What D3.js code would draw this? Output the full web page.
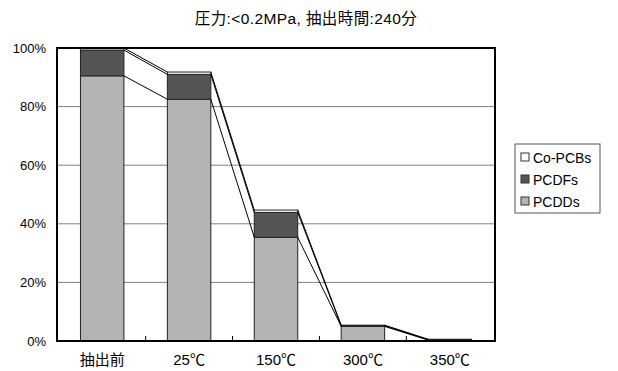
<!DOCTYPE html>
<html>
<head>
<meta charset="utf-8">
<script src="https://cdn.jsdelivr.net/npm/d3@7/dist/d3.min.js"></script>
<style>
  html, body { margin: 0; padding: 0; background: #fff; }
  svg { display: block; }
  text { font-family: "Liberation Sans", "Noto Sans CJK JP", sans-serif; fill: #000; }
</style>
</head>
<body>
<svg id="chart" width="618" height="371"></svg>
<script>
// Extraction stages
const categories = ["抽出前", "25℃", "150℃", "300℃", "350℃"];
// Series names (stack order, bottom to top)
const seriesNames = ["PCDDs", "PCDFs", "Co-PCBs"];
// Residual fraction (%) per stage
const pcdds  = [90.5, 82.5, 35.4, 5.0, 0.3];
const pcdfs  = [8.8, 8.5, 8.5, 0.2, 0.2];
const copcbs = [0.7, 0.8, 0.8, 0.2, 0.1];
const yTicks = [0, 20, 40, 60, 80, 100];
const titleText = "圧力:<0.2MPa, 抽出時間:240分";

const colors = { "PCDDs": "#b3b3b3", "PCDFs": "#555555", "Co-PCBs": "#ffffff" };
const fontStack = "\"Liberation Sans\", \"Noto Sans CJK JP\", sans-serif";

const svg = d3.select("#chart");
const plot = { left: 57, right: 495, top: 48, bottom: 341 };

const x = d3.scaleBand()
  .domain(categories)
  .range([plot.left, plot.right])
  .paddingInner(0.5)
  .paddingOuter(0.27);

const y = d3.scaleLinear().domain([0, 100]).range([plot.bottom, plot.top]);

const rows = categories.map((c, i) => ({ cat: c, "PCDDs": pcdds[i], "PCDFs": pcdfs[i], "Co-PCBs": copcbs[i] }));
const stacked = d3.stack().keys(seriesNames)(rows);

// Title
svg.append("text")
  .attr("x", 306).attr("y", 24)
  .attr("text-anchor", "middle")
  .attr("font-size", 15.5)
  .attr("letter-spacing", 0.4)
  .text(titleText);

// Gridlines
svg.append("g")
  .selectAll("line")
  .data(yTicks.filter(t => t > 0 && t < 100))
  .join("line")
  .attr("x1", plot.left).attr("x2", plot.right)
  .attr("y1", d => y(d)).attr("y2", d => y(d))
  .attr("stroke", "#808080").attr("stroke-width", 1);

// Y axis labels
const yAxis = d3.axisLeft(y).tickValues(yTicks).tickSize(0).tickPadding(11).tickFormat(d => d + "%");
const yg = svg.append("g").attr("transform", `translate(${plot.left},0)`).call(yAxis);
yg.select(".domain").remove();
yg.selectAll("text").attr("font-size", 13).attr("font-family", fontStack).attr("fill", "#000");

// Stacked bars
svg.append("g")
  .selectAll("g")
  .data(stacked)
  .join("g")
  .attr("fill", d => colors[d.key])
  .selectAll("rect")
  .data(d => d)
  .join("rect")
  .attr("x", d => x(d.data.cat))
  .attr("width", x.bandwidth())
  .attr("y", d => y(d[1]))
  .attr("height", d => Math.max(0, y(d[0]) - y(d[1])))
  .attr("stroke", "#222")
  .attr("stroke-width", 1);

// Series lines joining segment tops of adjacent bars
const bw = x.bandwidth();
stacked.forEach(layer => {
  const segs = [];
  for (let i = 0; i < layer.length - 1; i++) {
    segs.push({
      x1: x(layer[i].data.cat) + bw, y1: y(layer[i][1]),
      x2: x(layer[i + 1].data.cat), y2: y(layer[i + 1][1])
    });
  }
  svg.append("g").selectAll("line").data(segs).join("line")
    .attr("x1", d => d.x1).attr("y1", d => d.y1)
    .attr("x2", d => d.x2).attr("y2", d => d.y2)
    .attr("stroke", "#000").attr("stroke-width", 1);
});

// Inner tick marks between categories
const step = x.step();
svg.append("g").selectAll("line")
  .data(categories.slice(1))
  .join("line")
  .attr("x1", d => x(d) - step * x.paddingInner() / 2)
  .attr("x2", d => x(d) - step * x.paddingInner() / 2)
  .attr("y1", plot.bottom).attr("y2", plot.bottom - 5)
  .attr("stroke", "#000").attr("stroke-width", 1);

// Plot frame
svg.append("rect")
  .attr("x", plot.left).attr("y", plot.top)
  .attr("width", plot.right - plot.left).attr("height", plot.bottom - plot.top)
  .attr("fill", "none").attr("stroke", "#000").attr("stroke-width", 2);

// X axis labels
const xAxis = d3.axisBottom(x).tickSize(0).tickPadding(13);
const xg = svg.append("g").attr("transform", `translate(0,${plot.bottom})`).call(xAxis);
xg.select(".domain").remove();
xg.selectAll("text").attr("font-size", 15).attr("font-family", fontStack).attr("fill", "#000");

// Legend
const legend = svg.append("g").attr("transform", "translate(515,144)");
legend.append("rect")
  .attr("width", 85).attr("height", 69)
  .attr("fill", "#fff").attr("stroke", "#555").attr("stroke-width", 1);
const legendOrder = seriesNames.slice().reverse();
const items = legend.selectAll("g.item")
  .data(legendOrder)
  .join("g")
  .attr("class", "item")
  .attr("transform", (d, i) => `translate(6,${13 + i * 22})`);
items.append("rect")
  .attr("x", 0).attr("y", -4).attr("width", 8).attr("height", 8)
  .attr("fill", d => colors[d]).attr("stroke", "#333").attr("stroke-width", 1);
items.append("text")
  .attr("x", 12).attr("y", 5.5)
  .attr("font-size", 14)
  .text(d => d);
</script>
</body>
</html>
